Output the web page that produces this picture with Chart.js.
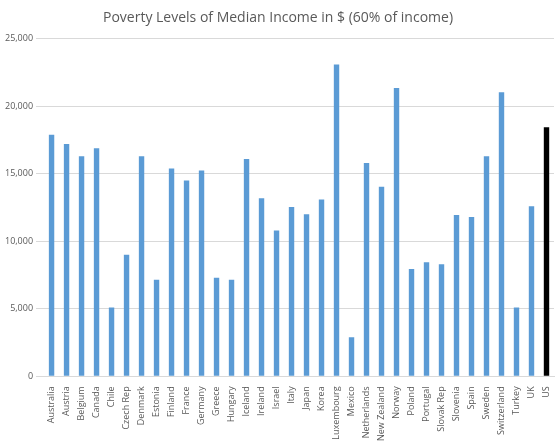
<!DOCTYPE html>
<html><head><meta charset="utf-8">
<script src="https://cdn.jsdelivr.net/npm/chart.js@4"></script>
<style>html,body{margin:0;padding:0;background:#fff}#w{width:560px;height:443px}</style>
</head><body><div id="w"><canvas id="c"></canvas></div>
<script>
const categories=["Australia","Austria","Belgium","Canada","Chile","Czech Rep","Denmark","Estonia","Finland","France","Germany","Greece","Hungary","Iceland","Ireland","Israel","Italy","Japan","Korea","Luxembourg","Mexico","Netherlands","New Zealand","Norway","Poland","Portugal","Slovak Rep","Slovenia","Spain","Sweden","Switzerland","Turkey","UK","US"];
const values=[17900,17200,16300,16900,5100,9000,16300,7150,15400,14500,15250,7300,7150,16100,13200,10800,12550,12000,13100,23100,2900,15800,14050,21350,7950,8450,8300,11950,11800,16300,21050,5100,12600,18450];
const colors=categories.map(c=>c==="US"?"#000000":"#5B9BD5");
new Chart(document.getElementById('c'),{type:'bar',
data:{labels:categories,datasets:[{data:values,backgroundColor:colors,barPercentage:0.36,categoryPercentage:1}]},
options:{responsive:true,maintainAspectRatio:false,animation:false,
layout:{padding:{left:2,right:6,top:6,bottom:0}},
plugins:{legend:{display:false},title:{display:true,text:'Poverty Levels of Median Income in $ (60% of income)',color:'#595959',font:{family:'Open Sans',size:14,weight:'normal'},padding:{top:4,bottom:12}}},
scales:{x:{grid:{display:false},border:{color:'#d9d9d9'},ticks:{color:'#595959',font:{family:'Open Sans',size:9},maxRotation:90,minRotation:90,autoSkip:false,padding:2}},
y:{min:0,max:25000,ticks:{stepSize:5000,color:'#595959',font:{family:'Open Sans',size:9},callback:v=>v.toLocaleString('en-US')},grid:{color:'#d9d9d9'},border:{display:false}}}}});
</script></body></html>
